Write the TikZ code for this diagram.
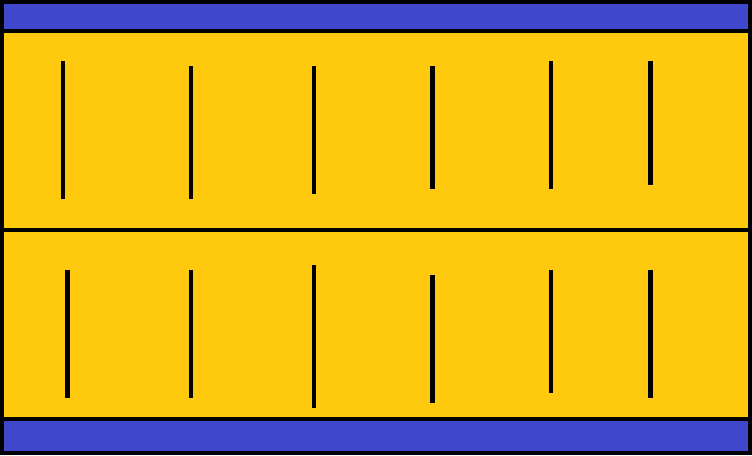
\documentclass[tikz,border=0pt]{standalone}
\definecolor{bandblue}{RGB}{63,72,204}
\definecolor{gold}{RGB}{255,201,14}
\tikzset{
  band/.style={fill=bandblue},
  field/.style={fill=gold},
  tick/.style={draw=black,line width=4.5pt}
}
\begin{document}
\begin{tikzpicture}[x=1pt,y=-1pt]
\useasboundingbox (0,0) rectangle (752,455);
\fill[black] (0,0) rectangle (752,455);
\path[band] (4,4) rectangle (748,28.5);
\path[field] (4,33) rectangle (748,227.5);
\path[field] (4,232) rectangle (748,416.8);
\path[band] (4,421.3) rectangle (748,450.5);
% top row
\draw[tick] (63,61.3) -- (63,199);
\draw[tick] (191,66) -- (191,199);
\draw[tick] (314,66) -- (314,194.3);
\draw[tick] (432.5,66) -- (432.5,189.3);
\draw[tick] (551,61.3) -- (551,189.3);
\draw[tick] (650.5,61.3) -- (650.5,184.7);
% bottom row
\draw[tick] (67.5,270) -- (67.5,398.3);
\draw[tick] (191,270) -- (191,398.3);
\draw[tick] (314,265) -- (314,407.7);
\draw[tick] (432.5,274.7) -- (432.5,403);
\draw[tick] (551,270) -- (551,393.3);
\draw[tick] (650.5,270) -- (650.5,398.3);
\end{tikzpicture}
\end{document}
